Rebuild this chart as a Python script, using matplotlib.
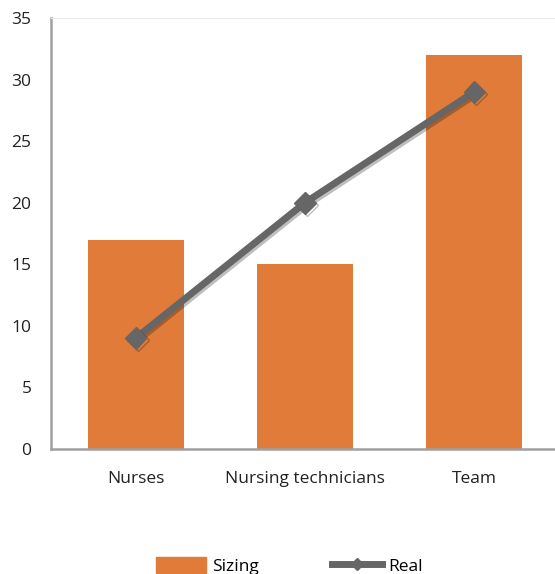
import matplotlib
matplotlib.use("Agg")
import matplotlib.pyplot as plt
import matplotlib.patheffects as pe
from matplotlib.patches import Patch
from matplotlib.lines import Line2D

categories = ["Nurses", "Nursing technicians", "Team"]
sizing = [17, 15, 32]
real = [9, 20, 29]
yticks = [0, 5, 10, 15, 20, 25, 30, 35]

plt.rcParams['font.family'] = ['Open Sans', 'DejaVu Sans']

fig = plt.figure(figsize=(5.55, 5.74), dpi=100)
ax = fig.add_axes([51/555, 125/574, 508/555, 431/574])

x = list(range(len(categories)))
orange = "#E07B39"
gray = "#666666"
ax.bar(x, sizing, width=0.565, color=orange, zorder=2)
ax.plot(x, real, color=gray, lw=5, marker="D", markersize=11, zorder=3,
        path_effects=[pe.SimpleLineShadow(offset=(1.5, -1.5), alpha=0.25, shadow_color="black"), pe.Normal()])

ax.set_xlim(-0.5, 2.5)
ax.set_ylim(0, 35)
ax.set_yticks(yticks)
ax.set_xticks(x)
ax.set_xticklabels(categories)
ax.tick_params(axis="both", length=0, labelsize=12.5, colors="#222222")
ax.tick_params(axis="y", pad=14)
ax.tick_params(axis="x", pad=16)
for s in ["left", "bottom"]:
    ax.spines[s].set_color("#a0a0a0")
    ax.spines[s].set_linewidth(1.8)
ax.spines["top"].set_color("#e8e8e8")
ax.spines["top"].set_linewidth(0.8)
ax.spines["right"].set_visible(False)

handles = [Patch(color=orange, label="Sizing"),
           Line2D([0], [0], color=gray, lw=5, marker="D", markersize=6, label="Real")]
fig.legend(handles=handles, loc="center left", bbox_to_anchor=(140/555, 8/574),
           ncol=2, frameon=False, fontsize=12.5, handlelength=2.9, handletextpad=0.35,
           columnspacing=4.2, handleheight=1.0)

fig.savefig("out.png", dpi=100)
